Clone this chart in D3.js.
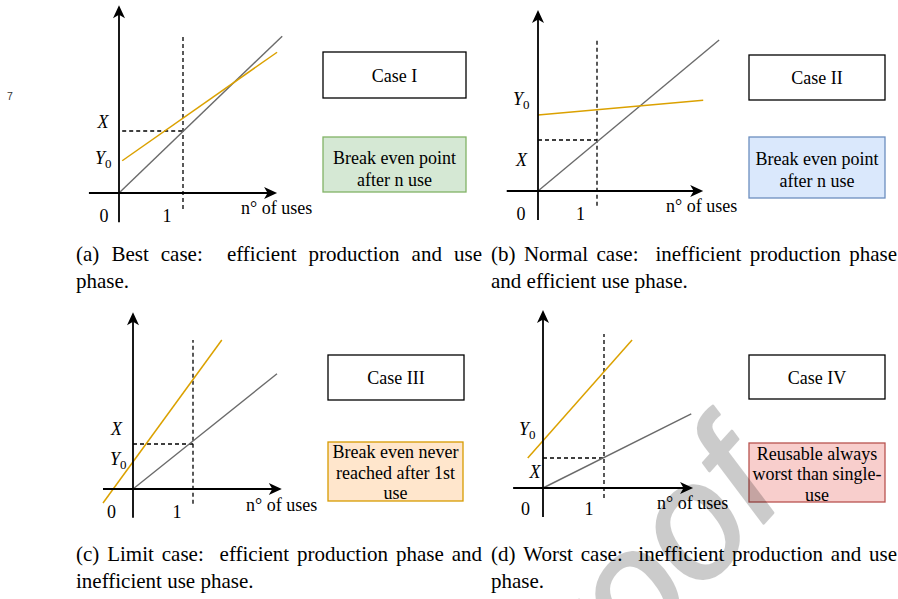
<!DOCTYPE html>
<html>
<head>
<meta charset="utf-8">
<script src="https://cdn.jsdelivr.net/npm/d3@7"></script>
<style>
  html, body { margin: 0; padding: 0; background: #fff; }
  svg { display: block; }
</style>
</head>
<body>
<svg id="fig" width="898" height="599"></svg>
<script>
// ---- data -------------------------------------------------------------
// x: number of uses (1 = first use), y: impact in units of X
const caseNames = ["Case I", "Case II", "Case III", "Case IV"];
const verdicts = [
  ["Break even point", "after n use"],
  ["Break even point", "after n use"],
  ["Break even never", "reached after 1st", "use"],
  ["Reusable always", "worst than single-", "use"]
];
// single-use product: cumulative impact grows by X per use
const singleUse = [
  [[0, 0], [2.55, 2.53]],
  [[0, 0], [3.07, 2.96]],
  [[0, 0], [2.40, 2.56]],
  [[0, 0], [2.43, 2.47]]
];
// reusable product: starts at Y0 (production), grows with use phase
const reusable = [
  [[0.05, 0.52], [2.47, 2.27]],
  [[0.00, 1.49], [2.80, 1.78]],
  [[-0.50, -0.31], [1.48, 3.31]],
  [[-0.25, 1.00], [1.46, 4.93]]
];
const breakEven = [1, 1];           // one use, impact X
const tickLabels = ["0", "1"];
const axisTitle = "n° of uses";
const captionsTop = [
  "(a) Best case:  efficient production and use",
  "(b) Normal case:  inefficient production phase",
  "(c) Limit case:  efficient production phase and",
  "(d) Worst case:  inefficient production and use"
];
const captionsBottom = [
  "phase.",
  "and efficient use phase.",
  "inefficient use phase.",
  "phase."
];
const boxFills = ["#d5e8d4", "#dae8fc", "#ffe6cc", "#f8cecc"];
const boxStrokes = ["#82b366", "#6c8ebf", "#d79b00", "#b85450"];

// ---- layout -----------------------------------------------------------
const layout = [
  { ox: 119, oy: 193, ux: 183, uy: 131, xAxis: [-0.47, 2.47], yAxis: [-0.47, 3.03], vDash: [-0.26, 2.55], hDash: 0.05,
    lx: [103, 128], ly: [95, 164], t0: [104, 222], t1: [167, 222], title: [241, 214],
    caseBox: [323, 52, 143, 46], verdictBox: [323, 137, 143, 55], vShift: 4, lh: 22, cap: [76, 482, 261] },
  { ox: 538, oy: 191, ux: 597, uy: 140, xAxis: [-0.53, 2.80], yAxis: [-0.57, 3.55], vDash: [-0.29, 2.98], hDash: 0.0,
    lx: [521.5, 166], ly: [513, 105], t0: [521, 220], t1: [580.5, 220], title: [666, 212],
    caseBox: [749, 55, 136, 45], verdictBox: [749, 137, 136, 61], vShift: 2, lh: 22, cap: [491, 897, 261] },
  { ox: 133, oy: 489, ux: 193, uy: 444, xAxis: [-0.50, 2.48], yAxis: [-0.64, 3.93], vDash: [-0.33, 3.31], hDash: 0.0,
    lx: [116.5, 435], ly: [110, 465], t0: [111.5, 518], t1: [177, 518], title: [246, 511],
    caseBox: [328, 355, 136, 45], verdictBox: [328, 442, 135, 59], vShift: 0.5, lh: 20.5, cap: [76, 482, 561] },
  { ox: 543, oy: 488, ux: 604, uy: 458, xAxis: [-0.49, 2.46], yAxis: [-0.97, 5.93], vDash: [-0.33, 5.13], hDash: 0.0,
    lx: [535, 478], ly: [519, 435], t0: [525.5, 515], t1: [589, 515], title: [657, 509],
    caseBox: [749, 355, 136, 44], verdictBox: [749, 443, 136, 59], vShift: 1, lh: 20.5, cap: [491, 897, 561] }
];

const SERIF = '"Liberation Serif","Times New Roman",serif';
const svg = d3.select("#fig");
svg.append("rect").attr("width", 898).attr("height", 599).attr("fill", "#fff");

// page line number
svg.append("text").attr("x", 7).attr("y", 100)
  .attr("font-family", '"Liberation Sans",Arial,sans-serif').attr("font-size", 10.5)
  .attr("fill", "#333").text("7");

// filled "classic" arrowhead at tip pointing along unit vector (dx, dy)
function arrowHead(g, tx, ty, dx, dy) {
  const L = 13, W = 6, N = 3.5;
  const bx = tx - dx * L, by = ty - dy * L, px = -dy, py = dx;
  const pts = [[tx, ty], [bx + px * W, by + py * W], [tx - dx * (L - N), ty - dy * (L - N)], [bx - px * W, by - py * W]];
  g.append("path").attr("d", "M" + pts.map(p => p.join(",")).join("L") + "Z").attr("fill", "#000");
}

layout.forEach((L, i) => {
  const x = d3.scaleLinear().domain([0, 1]).range([L.ox, L.ux]);
  const y = d3.scaleLinear().domain([0, 1]).range([L.oy, L.uy]);
  const line = d3.line().x(d => x(d[0])).y(d => y(d[1]));
  const g = svg.append("g");

  // guides at the first use
  g.append("path").attr("d", line([[breakEven[0], L.vDash[0]], [breakEven[0], L.vDash[1]]]))
    .attr("stroke", "#000").attr("stroke-width", 1.3).attr("stroke-dasharray", "4,3").attr("fill", "none");
  g.append("path").attr("d", line([[L.hDash, breakEven[1]], [breakEven[0], breakEven[1]]]))
    .attr("stroke", "#000").attr("stroke-width", 1.3).attr("stroke-dasharray", "4,3").attr("fill", "none");

  // series
  g.append("path").attr("d", line(singleUse[i])).attr("stroke", "#6b6b6b").attr("stroke-width", 1.4).attr("fill", "none");
  g.append("path").attr("d", line(reusable[i])).attr("stroke", "#dba100").attr("stroke-width", 1.5).attr("fill", "none");

  // axes with arrowheads
  const xa0 = x(L.xAxis[0]), xa1 = x(L.xAxis[1]), y0 = y(0);
  g.append("line").attr("x1", xa0).attr("y1", y0).attr("x2", xa1 - 9).attr("y2", y0)
    .attr("stroke", "#000").attr("stroke-width", 1.8);
  arrowHead(g, xa1, y0, 1, 0);
  const ya0 = y(L.yAxis[0]), ya1 = y(L.yAxis[1]), x0 = x(0);
  g.append("line").attr("x1", x0).attr("y1", ya0).attr("x2", x0).attr("y2", ya1 + 9)
    .attr("stroke", "#000").attr("stroke-width", 1.8);
  arrowHead(g, x0, ya1, 0, -1);

  // labels
  const txt = (px, py, anchor) => g.append("text").attr("x", px).attr("y", py)
    .attr("text-anchor", anchor).attr("font-family", SERIF).attr("font-size", 18).attr("fill", "#000");
  txt(L.lx[0], L.lx[1], "middle").attr("font-style", "italic").text("X");
  const yl = txt(L.ly[0], L.ly[1], "start");
  yl.append("tspan").attr("font-style", "italic").text("Y");
  yl.append("tspan").attr("font-size", 13).attr("dy", 4).text("0");
  txt(L.t0[0], L.t0[1], "middle").text(tickLabels[0]);
  txt(L.t1[0], L.t1[1], "middle").text(tickLabels[1]);
  txt(L.title[0], L.title[1], "start").text(axisTitle);

  // case box
  const cb = L.caseBox;
  g.append("rect").attr("x", cb[0]).attr("y", cb[1]).attr("width", cb[2]).attr("height", cb[3])
    .attr("fill", "#fff").attr("stroke", "#000").attr("stroke-width", 1.3);
  txt(cb[0] + cb[2] / 2, cb[1] + cb[3] / 2 + 6.5, "middle").text(caseNames[i]);

  // verdict box
  const vb = L.verdictBox;
  g.append("rect").attr("x", vb[0]).attr("y", vb[1]).attr("width", vb[2]).attr("height", vb[3])
    .attr("fill", boxFills[i]).attr("stroke", boxStrokes[i]).attr("stroke-width", 1.3);
  const lines = verdicts[i], lh = L.lh;
  const cy = vb[1] + vb[3] / 2 + L.vShift;
  lines.forEach((s, k) => {
    txt(vb[0] + vb[2] / 2, cy - (lines.length - 1) * lh / 2 + k * lh + 6.5, "middle").text(s);
  });
});

// captions: first line justified between the column edges
const CAP_SIZE = 21;
function justified(words, x0, x1, yb) {
  const g = svg.append("g").attr("font-family", SERIF).attr("font-size", CAP_SIZE).attr("fill", "#000");
  const nodes = words.map(w => g.append("text").attr("y", yb).text(w));
  const widths = nodes.map(n => n.node().getComputedTextLength());
  const weights = words.slice(0, -1).map(w => /:$/.test(w) ? 2 : 1);
  const free = (x1 - x0) - d3.sum(widths);
  const unit = free / d3.sum(weights);
  let cx = x0;
  nodes.forEach((n, k) => {
    n.attr("x", cx);
    cx += widths[k] + (k < weights.length ? weights[k] * unit : 0);
  });
}
layout.forEach((L, i) => {
  justified(captionsTop[i].split(/\s+/), L.cap[0], L.cap[1], L.cap[2]);
  svg.append("text").attr("x", L.cap[0]).attr("y", L.cap[2] + 27)
    .attr("font-family", SERIF).attr("font-size", CAP_SIZE).attr("fill", "#000").text(captionsBottom[i]);
});

// diagonal watermark across the page (translucent group, so text stays legible)
svg.append("g").attr("opacity", 0.2)
  .append("text")
  .attr("transform", "translate(790,494) rotate(-48)")
  .attr("text-anchor", "end")
  .attr("font-family", '"Liberation Sans",Arial,sans-serif')
  .attr("font-style", "italic")
  .attr("font-size", 162)
  .attr("fill", "#000").attr("stroke", "#000").attr("stroke-width", 2.5)
  .attr("stroke-linejoin", "round")
  .text("Journal Pre-proof");
</script>
</body>
</html>
